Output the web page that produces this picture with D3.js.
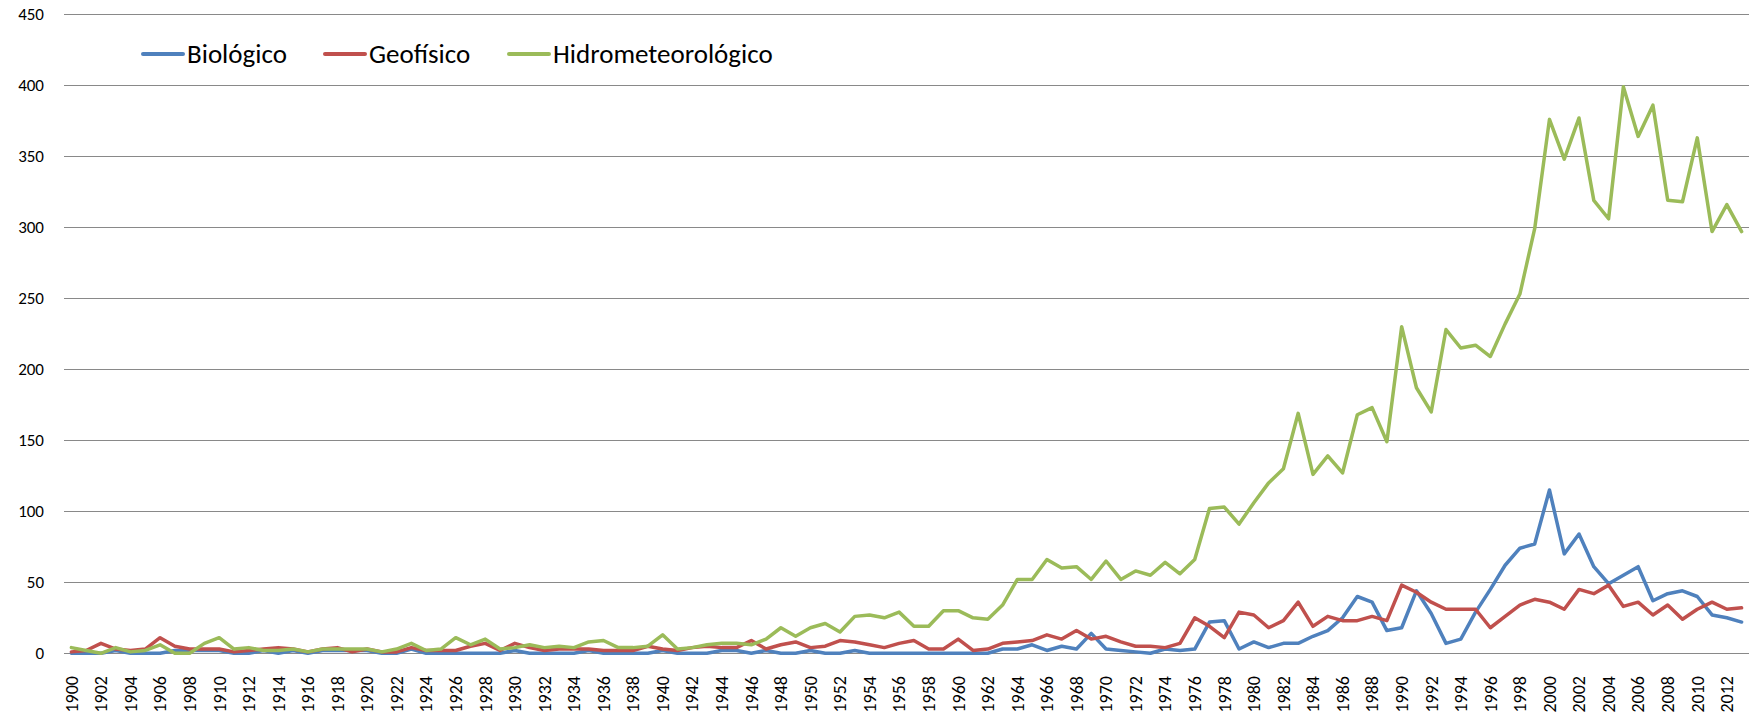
<!DOCTYPE html>
<html>
<head>
<meta charset="utf-8">
<script src="https://cdn.jsdelivr.net/npm/d3@7"></script>
<style>
  body { margin: 0; background: #fff; }
  text { font-family: Calibri, Carlito, Lato, sans-serif; fill: #000; }
</style>
</head>
<body>
<script>
const width = 1757;
const height = 723;

// years 1900..2013
const years = d3.range(1900, 2014);

const biologico = [
  0, 0, 0, 2, 0, 0, 0, 2, 2, 2, 2, 0, 0, 2, 0, 2, 0, 2, 2, 2,
  2, 0, 0, 3, 0, 0, 0, 0, 0, 0, 2, 0, 0, 0, 0, 2, 0, 0, 0, 0,
  2, 0, 0, 0, 2, 2, 0, 2, 0, 0, 2, 0, 0, 2, 0, 0, 0, 0, 0, 0,
  0, 0, 0, 3, 3, 6, 2, 5, 3, 14, 3, 2, 1, 0, 3, 2, 3, 22, 23, 3,
  8, 4, 7, 7, 12, 16, 25, 40, 36, 16, 18, 44, 28, 7, 10, 29, 45, 62, 74, 77,
  115, 70, 84, 61, 49, 55, 61, 37, 42, 44, 40, 27, 25, 22
];

const geofisico = [
  1, 2, 7, 3, 2, 3, 11, 5, 3, 3, 3, 1, 2, 3, 4, 3, 1, 3, 4, 1,
  3, 1, 1, 4, 2, 2, 2, 5, 7, 2, 7, 4, 2, 3, 3, 3, 2, 2, 2, 5,
  3, 2, 4, 5, 4, 4, 9, 3, 6, 8, 4, 5, 9, 8, 6, 4, 7, 9, 3, 3,
  10, 2, 3, 7, 8, 9, 13, 10, 16, 10, 12, 8, 5, 5, 4, 7, 25, 19, 11, 29,
  27, 18, 23, 36, 19, 26, 23, 23, 26, 23, 48, 43, 36, 31, 31, 31, 18, 26, 34, 38,
  36, 31, 45, 42, 48, 33, 36, 27, 34, 24, 31, 36, 31, 32
];

const hidro = [
  4, 2, 0, 4, 1, 2, 6, 0, 0, 7, 11, 3, 4, 2, 2, 3, 1, 3, 3, 3,
  3, 1, 3, 7, 2, 3, 11, 6, 10, 3, 4, 6, 4, 5, 4, 8, 9, 4, 4, 5,
  13, 3, 4, 6, 7, 7, 6, 10, 18, 12, 18, 21, 15, 26, 27, 25, 29, 19, 19, 30,
  30, 25, 24, 34, 52, 52, 66, 60, 61, 52, 65, 52, 58, 55, 64, 56, 66, 102, 103, 91,
  106, 120, 130, 169, 126, 139, 127, 168, 173, 149, 230, 187, 170, 228, 215, 217, 209, 232, 253, 299,
  376, 348, 377, 319, 306, 399, 364, 386, 319, 318, 363, 297, 316, 297
];

const seriesNames = ['Biológico', 'Geofísico', 'Hidrometeorológico'];
const seriesValues = [biologico, geofisico, hidro];
const colors = ['#4F81BD', '#C0504D', '#9BBB59'];

const yTicks = d3.range(0, 451, 50);

const svg = d3.select('body').append('svg')
    .attr('width', width).attr('height', height);

// шкалы
const x = d3.scaleBand().domain(years).range([64, 1749]);
const y = d3.scaleLinear().domain([0, 450]).range([653.3, 14.3]);

// сетка
svg.append('g').selectAll('line')
    .data(yTicks).enter().append('line')
    .attr('x1', 64).attr('x2', 1749)
    .attr('y1', d => Math.round(y(d)) + 0.5).attr('y2', d => Math.round(y(d)) + 0.5)
    .attr('stroke', '#898989').attr('stroke-width', 1.2);

// подписи оси y
svg.append('g').selectAll('text')
    .data(yTicks).enter().append('text')
    .attr('x', 44).attr('y', d => y(d))
    .attr('dy', '0.35em')
    .attr('text-anchor', 'end')
    .style('font-size', '17px')
    .text(d => d);

// подписи оси x, каждый второй год
svg.append('g').selectAll('text')
    .data(years.filter(d => d % 2 === 0)).enter().append('text')
    .attr('transform', d => `translate(${x(d) + x.bandwidth() / 2},676) rotate(-90)`)
    .attr('dy', '0.35em')
    .attr('text-anchor', 'end')
    .style('font-size', '18px')
    .text(d => d);

// линии
const line = d3.line()
    .x((d, i) => x(years[i]) + x.bandwidth() / 2)
    .y(d => y(d));

svg.append('g').selectAll('path')
    .data(seriesValues).enter().append('path')
    .attr('d', line)
    .attr('fill', 'none')
    .attr('stroke', (d, i) => colors[i])
    .attr('stroke-width', 3.5)
    .attr('stroke-linejoin', 'round')
    .attr('stroke-linecap', 'round');

// легенда
const legendX = [143, 325, 509];
const legend = svg.append('g').selectAll('g')
    .data(seriesNames).enter().append('g')
    .attr('transform', (d, i) => `translate(${legendX[i]},54)`);

legend.append('line')
    .attr('x1', 0).attr('x2', 40)
    .attr('stroke', (d, i) => colors[i])
    .attr('stroke-width', 4)
    .attr('stroke-linecap', 'round');

legend.append('text')
    .attr('x', 44).attr('y', 9)
    .style('font-size', '27px')
    .text(d => d);
</script>
</body>
</html>
